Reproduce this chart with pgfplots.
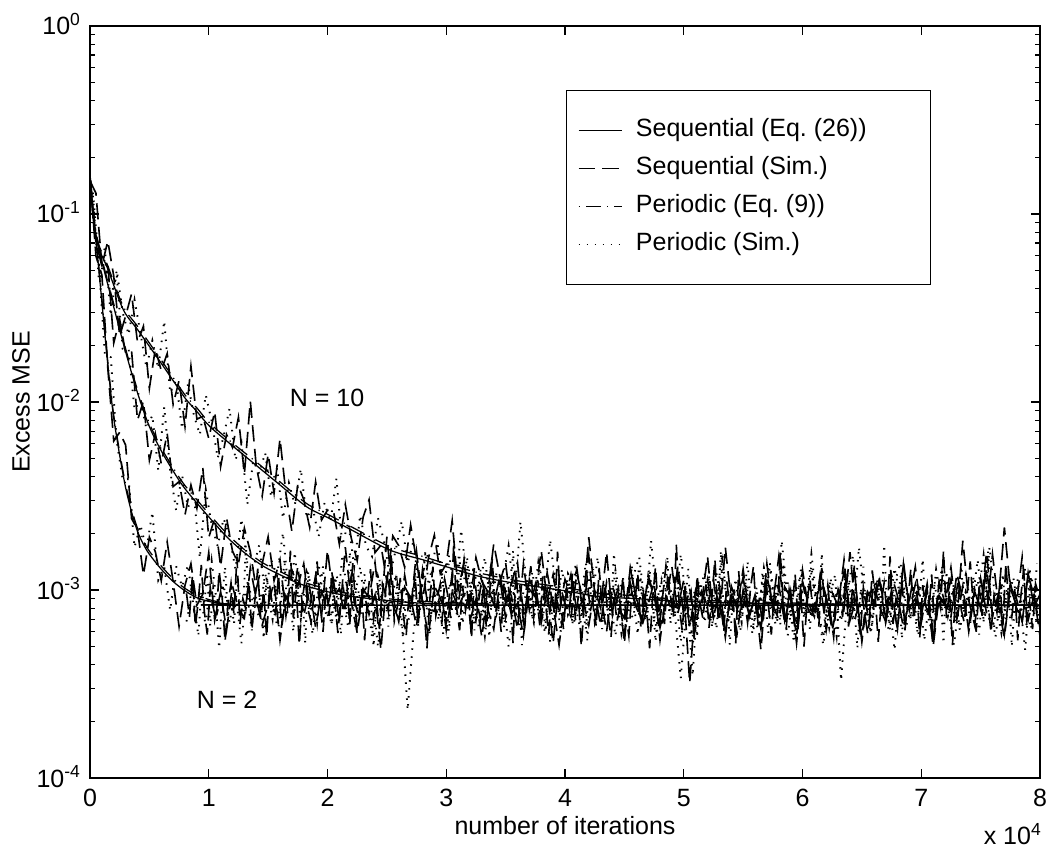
\documentclass[border=0pt]{standalone}
\usepackage{fontspec}
\setmainfont{Liberation Sans}
\usepackage{pgfplots}
\usepackage{pgfplotstable}
\pgfplotsset{compat=1.18}

% simulated excess MSE, dashed runs (N=2, N=5, N=10)
\pgfplotstableread{
x a c e
0 1600e-4 1500e-4 1550e-4
500 598e-4 1290e-4 711e-4
1000 475e-4 531e-4 529e-4
1500 151e-4 544e-4 719e-4
2000 62e-4 206e-4 467e-4
2500 69e-4 275e-4 224e-4
3000 59e-4 182e-4 287e-4
3500 24e-4 187e-4 376e-4
4000 21e-4 80e-4 208e-4
4500 12.0e-4 101e-4 253e-4
5000 19.1e-4 49e-4 118e-4
5500 16.0e-4 68e-4 192e-4
6000 11.2e-4 47e-4 147e-4
6500 18.0e-4 68e-4 181e-4
7000 11.1e-4 35.5e-4 97e-4
7500 6.4e-4 37.7e-4 130e-4
8000 10.6e-4 25.1e-4 74e-4
8500 13.8e-4 36.2e-4 155e-4
9000 8.3e-4 27.2e-4 81e-4
9500 9.5e-4 44.6e-4 84e-4
10000 15.8e-4 19.0e-4 64e-4
10500 6.9e-4 24.1e-4 89e-4
11000 9.8e-4 13.3e-4 45.3e-4
11500 6.1e-4 24.2e-4 67.2e-4
12000 10.5e-4 16.1e-4 57.3e-4
12500 8.0e-4 13.8e-4 83e-4
13000 7.1e-4 21.3e-4 41.3e-4
13500 13.1e-4 16.0e-4 101e-4
14000 9.0e-4 10.1e-4 45.6e-4
14500 6.5e-4 13.8e-4 31.6e-4
15000 8.4e-4 19.2e-4 52.8e-4
15500 11.0e-4 11.2e-4 32.7e-4
16000 5.4e-4 14.5e-4 63.8e-4
16500 9.3e-4 7.3e-4 32.5e-4
17000 7.8e-4 12.8e-4 20.5e-4
17500 13.4e-4 10.5e-4 36.5e-4
18000 7.3e-4 13.8e-4 30.3e-4
18500 10.2e-4 8.1e-4 21.5e-4
19000 6.3e-4 11.9e-4 37.6e-4
19500 9.8e-4 7.3e-4 23.6e-4
20000 8.1e-4 16.3e-4 26.6e-4
20500 11.3e-4 9.1e-4 26.4e-4
21000 6.8e-4 10.2e-4 17.5e-4
21500 16.9e-4 8.2e-4 28.5e-4
22000 8.7e-4 11.9e-4 18.9e-4
22500 5.9e-4 6.4e-4 14.3e-4
23000 10.0e-4 10.1e-4 24.4e-4
23500 7.4e-4 9.1e-4 30.2e-4
24000 9.4e-4 14.0e-4 15.8e-4
24500 4.8e-4 7.3e-4 17.3e-4
25000 11.9e-4 19.2e-4 11.1e-4
25500 8.3e-4 9.2e-4 19.4e-4
26000 7.0e-4 6.8e-4 17.2e-4
26500 10.4e-4 12.0e-4 13.2e-4
27000 9.1e-4 7.8e-4 22.2e-4
27500 6.4e-4 16.0e-4 14.3e-4
28000 12.8e-4 8.5e-4 8.7e-4
28500 7.9e-4 5.7e-4 14.8e-4
29000 7.7e-4 10.5e-4 19.6e-4
29500 10.8e-4 9.1e-4 12.2e-4
30000 6.1e-4 6.8e-4 13.7e-4
30500 9.7e-4 12.3e-4 23.4e-4
31000 8.2e-4 8.1e-4 10.0e-4
31500 14.5e-4 9.5e-4 14.0e-4
32000 6.9e-4 9.9e-4 8.7e-4
32500 8.9e-4 6.9e-4 14.9e-4
33000 5.6e-4 11.5e-4 11.1e-4
33500 10.3e-4 7.9e-4 9.8e-4
34000 8.4e-4 6.2e-4 17.6e-4
34500 11.7e-4 10.9e-4 12.0e-4
35000 7.1e-4 14.0e-4 8.5e-4
35500 9.2e-4 7.5e-4 10.9e-4
36000 6.2e-4 8.5e-4 14.0e-4
36500 13.8e-4 5.7e-4 6.8e-4
37000 7.8e-4 10.1e-4 11.4e-4
37500 10.7e-4 9.2e-4 9.4e-4
38000 6.7e-4 7.2e-4 16.2e-4
38500 9.9e-4 12.4e-4 8.8e-4
39000 5.2e-4 8.2e-4 12.1e-4
39500 11.1e-4 5.1e-4 7.4e-4
40000 8.5e-4 8.9e-4 11.4e-4
40500 7.2e-4 12.1e-4 9.4e-4
41000 12.2e-4 7.7e-4 13.0e-4
41500 9.0e-4 8.8e-4 7.8e-4
42000 6.5e-4 15.3e-4 19.1e-4
42500 10.1e-4 6.7e-4 9.7e-4
43000 8.0e-4 9.5e-4 6.5e-4
43500 15.9e-4 6.0e-4 11.0e-4
44000 7.3e-4 10.5e-4 8.2e-4
44500 9.5e-4 8.0e-4 10.3e-4
45000 5.8e-4 7.1e-4 5.2e-4
45500 10.9e-4 13.1e-4 12.9e-4
46000 8.1e-4 9.0e-4 9.0e-4
46500 6.8e-4 6.5e-4 7.5e-4
47000 12.0e-4 8.4e-4 11.2e-4
47500 9.3e-4 11.0e-4 9.7e-4
48000 6.3e-4 5.4e-4 6.8e-4
48500 8.8e-4 9.3e-4 13.5e-4
49000 13.3e-4 7.8e-4 8.3e-4
49500 7.5e-4 13.4e-4 8.0e-4
50000 10.0e-4 7.3e-4 11.3e-4
50500 3.2e-4 10.2e-4 6.3e-4
51000 9.1e-4 6.3e-4 10.0e-4
51500 8.3e-4 9.8e-4 8.5e-4
52000 11.4e-4 8.1e-4 15.1e-4
52500 7.0e-4 11.3e-4 7.1e-4
53000 10.5e-4 6.8e-4 9.1e-4
53500 6.0e-4 16.9e-4 5.6e-4
54000 9.8e-4 8.7e-4 10.5e-4
54500 7.9e-4 5.9e-4 8.4e-4
55000 12.9e-4 10.0e-4 11.7e-4
55500 7.4e-4 7.4e-4 7.1e-4
56000 8.9e-4 9.4e-4 9.2e-4
56500 6.4e-4 4.8e-4 6.2e-4
57000 10.2e-4 11.9e-4 13.8e-4
57500 8.4e-4 8.3e-4 7.8e-4
58000 15.0e-4 7.0e-4 10.7e-4
58500 6.9e-4 10.4e-4 6.7e-4
59000 9.4e-4 9.1e-4 9.9e-4
59500 5.7e-4 6.4e-4 5.2e-4
60000 11.0e-4 12.8e-4 11.1e-4
60500 7.8e-4 7.9e-4 8.5e-4
61000 7.1e-4 7.7e-4 7.2e-4
61500 11.8e-4 10.8e-4 12.2e-4
62000 9.2e-4 6.1e-4 9.0e-4
62500 6.1e-4 9.7e-4 6.5e-4
63000 8.7e-4 8.2e-4 10.1e-4
63500 12.5e-4 14.5e-4 8.0e-4
64000 7.7e-4 6.9e-4 15.9e-4
64500 10.3e-4 8.9e-4 7.3e-4
65000 5.3e-4 5.6e-4 9.5e-4
65500 9.7e-4 10.3e-4 5.8e-4
66000 8.2e-4 8.4e-4 10.9e-4
66500 11.2e-4 11.7e-4 8.1e-4
67000 6.7e-4 7.1e-4 6.8e-4
67500 10.0e-4 9.2e-4 12.0e-4
68000 6.2e-4 6.2e-4 9.3e-4
68500 14.1e-4 13.8e-4 6.3e-4
69000 8.0e-4 7.8e-4 8.8e-4
69500 9.0e-4 10.7e-4 13.3e-4
70000 7.3e-4 6.7e-4 7.5e-4
70500 10.8e-4 9.9e-4 10.0e-4
71000 5.9e-4 5.2e-4 5.0e-4
71500 9.3e-4 11.1e-4 9.1e-4
72000 8.5e-4 8.5e-4 8.3e-4
72500 13.2e-4 7.2e-4 11.4e-4
73000 7.0e-4 12.2e-4 7.0e-4
73500 18.3e-4 9.0e-4 10.5e-4
74000 8.8e-4 6.5e-4 6.0e-4
74500 6.5e-4 10.1e-4 9.8e-4
75000 11.5e-4 8.0e-4 7.9e-4
75500 7.5e-4 15.9e-4 12.9e-4
76000 15.5e-4 7.3e-4 7.4e-4
76500 8.3e-4 9.5e-4 8.9e-4
77000 5.6e-4 5.8e-4 21.5e-4
77500 10.4e-4 10.9e-4 10.2e-4
78000 9.1e-4 8.1e-4 8.4e-4
78500 6.8e-4 6.8e-4 15.0e-4
79000 12.3e-4 12.0e-4 6.9e-4
79500 8.1e-4 9.3e-4 9.4e-4
80000 9.5e-4 6.3e-4 5.7e-4
}\seqsim

% simulated excess MSE, dotted runs (N=2, N=5, N=10)
\pgfplotstableread{
x b d f
250 1300e-4 1250e-4 970e-4
750 550e-4 445e-4 538e-4
1250 179e-4 578e-4 656e-4
1750 173e-4 364e-4 288e-4
2250 61.9e-4 473e-4 504e-4
2750 38.8e-4 192e-4 300e-4
3250 38.9e-4 192e-4 228e-4
3750 16.9e-4 91e-4 349e-4
4250 22.2e-4 102e-4 232e-4
4750 16.4e-4 72e-4 152e-4
5250 26.0e-4 84.9e-4 212e-4
5750 11.3e-4 43.3e-4 151e-4
6250 13.3e-4 94e-4 270e-4
6750 7.8e-4 43.3e-4 112e-4
7250 13.4e-4 26.5e-4 131e-4
7750 10.4e-4 41.0e-4 72e-4
8250 13.6e-4 27.5e-4 125e-4
8750 7.9e-4 31.9e-4 85e-4
9250 9.8e-4 14.8e-4 67e-4
9750 6.4e-4 34.1e-4 109e-4
10250 14.2e-4 22.1e-4 79e-4
10750 7.8e-4 17.1e-4 50.3e-4
11250 10.7e-4 24.0e-4 65.4e-4
11750 6.7e-4 19.4e-4 92.6e-4
12250 9.9e-4 12.9e-4 49.1e-4
12750 5.2e-4 23.9e-4 60.9e-4
13250 11.1e-4 14.0e-4 28.5e-4
13750 8.5e-4 13.0e-4 48.7e-4
14250 7.2e-4 17.4e-4 41.6e-4
14750 12.2e-4 9.5e-4 53.7e-4
15250 9.0e-4 14.5e-4 31.2e-4
15750 6.5e-4 11.9e-4 44.5e-4
16250 10.1e-4 20.2e-4 24.0e-4
16750 8.0e-4 9.2e-4 37.1e-4
17250 15.9e-4 11.5e-4 28.4e-4
17750 7.3e-4 7.0e-4 44.1e-4
18250 9.5e-4 12.5e-4 24.2e-4
18750 5.8e-4 10.1e-4 27.6e-4
19250 10.9e-4 13.8e-4 19.2e-4
19750 8.1e-4 8.3e-4 29.1e-4
20250 6.8e-4 10.5e-4 23.0e-4
20750 12.0e-4 7.0e-4 39.1e-4
21250 9.3e-4 15.4e-4 17.3e-4
21750 6.3e-4 8.7e-4 23.0e-4
22250 8.8e-4 11.7e-4 13.3e-4
22750 13.3e-4 7.2e-4 25.0e-4
23250 7.5e-4 10.7e-4 17.1e-4
23750 10.0e-4 5.6e-4 15.1e-4
24250 5.0e-4 11.8e-4 24.2e-4
24750 9.1e-4 9.0e-4 18.3e-4
25250 8.3e-4 7.2e-4 11.9e-4
25750 11.4e-4 12.2e-4 16.4e-4
26250 7.0e-4 9.0e-4 23.2e-4
26750 2.3e-4 6.5e-4 13.9e-4
27250 6.0e-4 10.1e-4 18.3e-4
27750 9.8e-4 8.0e-4 9.2e-4
28250 7.9e-4 15.9e-4 16.2e-4
28750 12.9e-4 7.3e-4 13.4e-4
29250 7.4e-4 9.5e-4 18.0e-4
29750 8.9e-4 5.8e-4 10.4e-4
30250 6.4e-4 10.9e-4 15.4e-4
30750 10.2e-4 8.1e-4 9.4e-4
31250 8.4e-4 6.8e-4 20.9e-4
31750 15.0e-4 12.0e-4 11.5e-4
32250 6.9e-4 9.3e-4 12.8e-4
32750 9.4e-4 6.3e-4 10.2e-4
33250 5.7e-4 8.8e-4 14.9e-4
33750 11.0e-4 13.3e-4 8.0e-4
34250 7.8e-4 7.5e-4 12.5e-4
34750 7.1e-4 10.0e-4 11.3e-4
35250 11.8e-4 5.0e-4 17.2e-4
35750 9.2e-4 9.1e-4 9.0e-4
36250 6.1e-4 8.3e-4 23.1e-4
36750 8.7e-4 11.4e-4 10.9e-4
37250 12.5e-4 7.0e-4 8.0e-4
37750 7.7e-4 10.5e-4 14.0e-4
38250 10.3e-4 6.0e-4 9.1e-4
38750 5.3e-4 9.8e-4 18.5e-4
39250 9.7e-4 7.9e-4 9.9e-4
39750 8.2e-4 12.9e-4 6.5e-4
40250 11.2e-4 7.4e-4 12.2e-4
40750 6.7e-4 8.9e-4 10.5e-4
41250 10.0e-4 6.4e-4 7.8e-4
41750 6.2e-4 10.2e-4 14.0e-4
42250 14.1e-4 8.4e-4 9.1e-4
42750 8.0e-4 15.0e-4 10.5e-4
43250 9.0e-4 6.9e-4 10.9e-4
43750 7.3e-4 9.4e-4 7.5e-4
44250 10.8e-4 5.7e-4 12.7e-4
44750 5.9e-4 11.0e-4 8.5e-4
45250 9.3e-4 7.8e-4 6.8e-4
45750 8.5e-4 7.1e-4 11.8e-4
46250 13.2e-4 11.8e-4 15.0e-4
46750 7.0e-4 9.2e-4 8.1e-4
47250 18.3e-4 6.1e-4 9.1e-4
47750 8.8e-4 8.7e-4 6.0e-4
48250 6.5e-4 12.5e-4 10.7e-4
48750 11.5e-4 7.7e-4 9.8e-4
49250 7.5e-4 10.3e-4 7.5e-4
49750 15.5e-4 5.3e-4 3.4e-4
50250 8.3e-4 9.7e-4 8.5e-4
50750 5.6e-4 3.5e-4 5.1e-4
51250 10.4e-4 11.2e-4 9.2e-4
51750 9.1e-4 6.7e-4 12.4e-4
52250 6.8e-4 10.0e-4 7.9e-4
52750 12.3e-4 6.2e-4 9.0e-4
53250 8.1e-4 14.1e-4 15.6e-4
53750 9.5e-4 8.0e-4 6.7e-4
54250 9.9e-4 9.0e-4 9.5e-4
54750 6.9e-4 7.3e-4 6.0e-4
55250 11.5e-4 10.8e-4 10.5e-4
55750 7.9e-4 5.9e-4 8.0e-4
56250 6.2e-4 9.3e-4 7.1e-4
56750 10.9e-4 8.5e-4 13.1e-4
57250 14.0e-4 13.2e-4 9.0e-4
57750 7.5e-4 7.0e-4 6.5e-4
58250 8.5e-4 18.3e-4 8.4e-4
58750 5.7e-4 8.8e-4 11.0e-4
59250 10.1e-4 6.5e-4 5.4e-4
59750 9.2e-4 11.5e-4 9.3e-4
60250 7.2e-4 7.5e-4 7.8e-4
60750 12.4e-4 15.5e-4 13.4e-4
61250 8.2e-4 8.3e-4 7.3e-4
61750 5.1e-4 5.6e-4 10.2e-4
62250 8.9e-4 10.4e-4 6.3e-4
62750 12.1e-4 9.1e-4 9.8e-4
63250 3.3e-4 6.8e-4 8.1e-4
63750 8.8e-4 12.3e-4 11.3e-4
64250 15.3e-4 8.1e-4 6.8e-4
64750 6.7e-4 9.5e-4 16.9e-4
65250 9.5e-4 9.9e-4 8.7e-4
65750 6.0e-4 6.9e-4 5.9e-4
66250 10.5e-4 11.5e-4 10.0e-4
66750 8.0e-4 7.9e-4 7.4e-4
67250 7.1e-4 6.2e-4 9.4e-4
67750 13.1e-4 10.9e-4 4.8e-4
68250 9.0e-4 14.0e-4 11.9e-4
68750 6.5e-4 7.5e-4 8.3e-4
69250 8.4e-4 8.5e-4 7.0e-4
69750 11.0e-4 5.7e-4 10.4e-4
70250 5.4e-4 10.1e-4 9.1e-4
70750 9.3e-4 9.2e-4 6.4e-4
71250 7.8e-4 7.2e-4 12.8e-4
71750 13.4e-4 12.4e-4 7.9e-4
72250 7.3e-4 8.2e-4 7.7e-4
72750 10.2e-4 5.1e-4 10.8e-4
73250 6.3e-4 8.9e-4 6.1e-4
73750 9.8e-4 12.1e-4 9.7e-4
74250 8.1e-4 7.7e-4 8.2e-4
74750 11.3e-4 8.8e-4 14.5e-4
75250 6.8e-4 15.3e-4 6.9e-4
75750 16.9e-4 6.7e-4 8.9e-4
76250 8.7e-4 9.5e-4 5.6e-4
76750 5.9e-4 6.0e-4 10.3e-4
77250 10.0e-4 10.5e-4 8.4e-4
77750 7.4e-4 8.0e-4 11.7e-4
78250 9.4e-4 7.1e-4 7.1e-4
78750 4.8e-4 13.1e-4 9.2e-4
79250 11.9e-4 9.0e-4 6.2e-4
79750 8.3e-4 6.5e-4 13.8e-4
}\persim

% further N=2 samples at the error floor (dashed g, dotted h)
\pgfplotstableread{
x g h
8125 9.6e-4 6.8e-4
8375 7.2e-4 8.1e-4
8625 11.9e-4 11.6e-4
8875 6.4e-4 7.4e-4
9125 8.8e-4 5.7e-4
9375 13.6e-4 9.8e-4
9625 7.7e-4 8.5e-4
9875 5.8e-4 12.3e-4
10125 10.3e-4 6.4e-4
10375 8.1e-4 10.2e-4
10625 6.9e-4 7.9e-4
10875 12.7e-4 4.9e-4
11125 9.2e-4 9.0e-4
11375 5.3e-4 13.3e-4
11625 8.5e-4 7.3e-4
11875 10.9e-4 8.8e-4
12125 7.4e-4 6.6e-4
12375 15.1e-4 11.3e-4
12625 6.6e-4 9.4e-4
12875 9.0e-4 7.1e-4
13125 7.9e-4 17.4e-4
13375 11.2e-4 8.0e-4
13625 6.1e-4 6.1e-4
13875 8.7e-4 10.5e-4
14125 13.0e-4 7.8e-4
14375 7.0e-4 9.6e-4
14625 9.9e-4 5.5e-4
14875 5.6e-4 12.0e-4
15125 10.6e-4 8.4e-4
15375 8.2e-4 7.0e-4
15625 7.5e-4 10.7e-4
15875 12.1e-4 6.3e-4
16125 6.3e-4 9.2e-4
16375 9.4e-4 14.6e-4
16625 8.0e-4 7.5e-4
16875 16.2e-4 8.6e-4
17125 7.1e-4 6.0e-4
17375 10.0e-4 11.1e-4
17625 5.1e-4 8.2e-4
17875 8.9e-4 9.9e-4
18125 11.5e-4 5.2e-4
18375 7.8e-4 12.6e-4
18625 6.7e-4 7.6e-4
18875 9.7e-4 8.9e-4
19125 14.2e-4 6.7e-4
19375 8.4e-4 10.3e-4
19625 6.0e-4 13.4e-4
19875 10.4e-4 7.2e-4
20125 7.3e-4 9.1e-4
20375 12.4e-4 6.5e-4
20625 8.6e-4 11.8e-4
20875 5.9e-4 8.3e-4
21125 9.3e-4 5.8e-4
21375 7.6e-4 9.7e-4
21625 11.0e-4 7.4e-4
21875 6.5e-4 16.0e-4
22125 13.9e-4 8.7e-4
22375 8.3e-4 6.2e-4
22625 7.2e-4 10.0e-4
22875 10.1e-4 7.9e-4
23125 5.4e-4 12.2e-4
23375 9.1e-4 6.9e-4
23625 12.9e-4 9.3e-4
23875 7.0e-4 5.0e-4
24125 8.7e-4 8.5e-4
24375 6.2e-4 11.4e-4
24625 10.8e-4 7.7e-4
24875 9.5e-4 9.0e-4
25125 7.7e-4 6.4e-4
25375 15.7e-4 13.1e-4
25625 6.8e-4 8.1e-4
25875 8.1e-4 10.6e-4
26125 11.6e-4 7.3e-4
26375 7.4e-4 5.6e-4
26625 5.7e-4 9.5e-4
26875 9.8e-4 9.6e-4
27125 8.5e-4 7.2e-4
27375 12.3e-4 11.9e-4
27625 6.4e-4 6.4e-4
27875 10.2e-4 8.8e-4
28125 7.9e-4 13.6e-4
28375 4.9e-4 7.7e-4
28625 9.0e-4 5.8e-4
28875 13.3e-4 10.3e-4
29125 7.3e-4 8.1e-4
29375 8.8e-4 6.9e-4
29625 6.6e-4 12.7e-4
29875 11.3e-4 9.2e-4
30125 9.4e-4 5.3e-4
30375 7.1e-4 8.5e-4
30625 17.4e-4 10.9e-4
30875 8.0e-4 7.4e-4
31125 6.1e-4 15.1e-4
31375 10.5e-4 6.6e-4
31625 7.8e-4 9.0e-4
31875 9.6e-4 7.9e-4
32125 5.5e-4 11.2e-4
32375 12.0e-4 6.1e-4
32625 8.4e-4 8.7e-4
32875 7.0e-4 13.0e-4
33125 10.7e-4 7.0e-4
33375 6.3e-4 9.9e-4
33625 9.2e-4 5.6e-4
33875 14.6e-4 10.6e-4
34125 7.5e-4 8.2e-4
34375 8.6e-4 7.5e-4
34625 6.0e-4 12.1e-4
34875 11.1e-4 6.3e-4
35125 8.2e-4 9.4e-4
35375 9.9e-4 8.0e-4
35625 5.2e-4 16.2e-4
35875 12.6e-4 7.1e-4
36125 7.6e-4 10.0e-4
36375 8.9e-4 5.1e-4
36625 6.7e-4 8.9e-4
36875 10.3e-4 11.5e-4
37125 13.4e-4 7.8e-4
37375 7.2e-4 6.7e-4
37625 9.1e-4 9.7e-4
37875 6.5e-4 14.2e-4
38125 11.8e-4 8.4e-4
38375 8.3e-4 6.0e-4
38625 5.8e-4 10.4e-4
38875 9.7e-4 7.3e-4
39125 7.4e-4 12.4e-4
39375 16.0e-4 8.6e-4
39625 8.7e-4 5.9e-4
39875 6.2e-4 9.3e-4
40125 10.0e-4 7.6e-4
40375 7.9e-4 11.0e-4
40625 12.2e-4 6.5e-4
40875 6.9e-4 13.9e-4
41125 9.3e-4 8.3e-4
41375 5.0e-4 7.2e-4
41625 8.5e-4 10.1e-4
41875 11.4e-4 5.4e-4
42125 7.7e-4 9.1e-4
42375 9.0e-4 12.9e-4
42625 6.4e-4 7.0e-4
42875 13.1e-4 8.7e-4
43125 8.1e-4 6.2e-4
43375 10.6e-4 10.8e-4
43625 7.3e-4 9.5e-4
43875 5.6e-4 7.7e-4
44125 9.5e-4 15.7e-4
44375 6.8e-4 9.6e-4
44625 8.1e-4 7.2e-4
44875 11.6e-4 11.9e-4
45125 7.4e-4 6.4e-4
45375 5.7e-4 8.8e-4
45625 9.8e-4 13.6e-4
45875 8.5e-4 7.7e-4
46125 12.3e-4 5.8e-4
46375 6.4e-4 10.3e-4
46625 10.2e-4 8.1e-4
46875 7.9e-4 6.9e-4
47125 4.9e-4 12.7e-4
47375 9.0e-4 9.2e-4
47625 13.3e-4 5.3e-4
47875 7.3e-4 8.5e-4
48125 8.8e-4 10.9e-4
48375 6.6e-4 7.4e-4
48625 11.3e-4 15.1e-4
48875 9.4e-4 6.6e-4
49125 7.1e-4 9.0e-4
49375 17.4e-4 7.9e-4
49625 8.0e-4 11.2e-4
49875 6.1e-4 6.1e-4
50125 10.5e-4 8.7e-4
50375 7.8e-4 13.0e-4
50625 9.6e-4 7.0e-4
50875 5.5e-4 9.9e-4
51125 12.0e-4 5.6e-4
51375 8.4e-4 10.6e-4
51625 7.0e-4 8.2e-4
51875 10.7e-4 7.5e-4
52125 6.3e-4 12.1e-4
52375 9.2e-4 6.3e-4
52625 14.6e-4 9.4e-4
52875 7.5e-4 8.0e-4
53125 8.6e-4 16.2e-4
53375 6.0e-4 7.1e-4
53625 11.1e-4 10.0e-4
53875 8.2e-4 5.1e-4
54125 9.9e-4 8.9e-4
54375 5.2e-4 11.5e-4
54625 12.6e-4 7.8e-4
54875 7.6e-4 6.7e-4
55125 8.9e-4 9.7e-4
55375 6.7e-4 14.2e-4
55625 10.3e-4 8.4e-4
55875 13.4e-4 6.0e-4
56125 7.2e-4 10.4e-4
56375 9.1e-4 7.3e-4
56625 6.5e-4 12.4e-4
56875 11.8e-4 8.6e-4
57125 8.3e-4 5.9e-4
57375 5.8e-4 9.3e-4
57625 9.7e-4 7.6e-4
57875 7.4e-4 11.0e-4
58125 16.0e-4 6.5e-4
58375 8.7e-4 13.9e-4
58625 6.2e-4 8.3e-4
58875 10.0e-4 7.2e-4
59125 7.9e-4 10.1e-4
59375 12.2e-4 5.4e-4
59625 6.9e-4 9.1e-4
59875 9.3e-4 12.9e-4
60125 5.0e-4 7.0e-4
60375 8.5e-4 8.7e-4
60625 11.4e-4 6.2e-4
60875 7.7e-4 10.8e-4
61125 9.0e-4 9.5e-4
61375 6.4e-4 7.7e-4
61625 13.1e-4 15.7e-4
61875 8.1e-4 6.8e-4
62125 10.6e-4 8.1e-4
62375 7.3e-4 11.6e-4
62625 5.6e-4 7.4e-4
62875 9.5e-4 5.7e-4
63125 9.6e-4 9.8e-4
63375 7.2e-4 8.5e-4
63625 11.9e-4 12.3e-4
63875 6.4e-4 6.4e-4
64125 8.8e-4 10.2e-4
64375 13.6e-4 7.9e-4
64625 7.7e-4 4.9e-4
64875 5.8e-4 9.0e-4
65125 10.3e-4 13.3e-4
65375 8.1e-4 7.3e-4
65625 6.9e-4 8.8e-4
65875 12.7e-4 6.6e-4
66125 9.2e-4 11.3e-4
66375 5.3e-4 9.4e-4
66625 8.5e-4 7.1e-4
66875 10.9e-4 17.4e-4
67125 7.4e-4 8.0e-4
67375 15.1e-4 6.1e-4
67625 6.6e-4 10.5e-4
67875 9.0e-4 7.8e-4
68125 7.9e-4 9.6e-4
68375 11.2e-4 5.5e-4
68625 6.1e-4 12.0e-4
68875 8.7e-4 8.4e-4
69125 13.0e-4 7.0e-4
69375 7.0e-4 10.7e-4
69625 9.9e-4 6.3e-4
69875 5.6e-4 9.2e-4
70125 10.6e-4 14.6e-4
70375 8.2e-4 7.5e-4
70625 7.5e-4 8.6e-4
70875 12.1e-4 6.0e-4
71125 6.3e-4 11.1e-4
71375 9.4e-4 8.2e-4
71625 8.0e-4 9.9e-4
71875 16.2e-4 5.2e-4
72125 7.1e-4 12.6e-4
72375 10.0e-4 7.6e-4
72625 5.1e-4 8.9e-4
72875 8.9e-4 6.7e-4
73125 11.5e-4 10.3e-4
73375 7.8e-4 13.4e-4
73625 6.7e-4 7.2e-4
73875 9.7e-4 9.1e-4
74125 14.2e-4 6.5e-4
74375 8.4e-4 11.8e-4
74625 6.0e-4 8.3e-4
74875 10.4e-4 5.8e-4
75125 7.3e-4 9.7e-4
75375 12.4e-4 7.4e-4
75625 8.6e-4 16.0e-4
75875 5.9e-4 8.7e-4
76125 9.3e-4 6.2e-4
76375 7.6e-4 10.0e-4
76625 11.0e-4 7.9e-4
76875 6.5e-4 12.2e-4
77125 13.9e-4 6.9e-4
77375 8.3e-4 9.3e-4
77625 7.2e-4 5.0e-4
77875 10.1e-4 8.5e-4
78125 5.4e-4 11.4e-4
78375 9.1e-4 7.7e-4
78625 12.9e-4 9.0e-4
78875 7.0e-4 6.4e-4
79125 8.7e-4 13.1e-4
79375 6.2e-4 8.1e-4
79625 10.8e-4 10.6e-4
79875 9.5e-4 7.3e-4
}\floorsim

\pgfplotsset{
  theo/.style={black, line width=0.5pt, solid},
  theodd/.style={black, line width=0.5pt, dash pattern=on 0.5pt off 2.5pt on 6pt off 2.3pt},
  simdash/.style={black, line width=0.65pt, dash pattern=on 6.5pt off 3pt},
  simdot/.style={black, line width=0.75pt, dash pattern=on 0.6pt off 2.6pt},
}

\begin{document}
\begin{tikzpicture}
\begin{axis}[
    at={(0,0)}, anchor=south west,
    width=380pt, height=300.8pt, scale only axis,
    ymode=log, log basis y=10,
    xmin=0, xmax=80000, ymin=1e-4, ymax=1,
    xtick={0,10000,...,80000},
    xticklabels={0,1,2,3,4,5,6,7,8},
    scaled x ticks=false,
    ytick={1e-4,1e-3,1e-2,1e-1,1},
    yticklabels={10\textsuperscript{-4},10\textsuperscript{-3},10\textsuperscript{-2},10\textsuperscript{-1},10\textsuperscript{0}},
    minor ytick={2e-4,3e-4,4e-4,5e-4,6e-4,7e-4,8e-4,9e-4,
                 2e-3,3e-3,4e-3,5e-3,6e-3,7e-3,8e-3,9e-3,
                 2e-2,3e-2,4e-2,5e-2,6e-2,7e-2,8e-2,9e-2,
                 0.2,0.3,0.4,0.5,0.6,0.7,0.8,0.9},
    /pgf/number format/assume math mode=true,
    tick align=inside,
    major tick length=3.6pt, minor tick length=2pt,
    every tick/.style={black, line width=0.5pt},
    axis line style={line width=0.6pt},
    xticklabel style={anchor=base, yshift=-11.2pt},
    yticklabel style={anchor=base east, yshift=-3.6pt},
    xlabel={number of iterations},
    ylabel={Excess MSE},
    every axis x label/.style={at={([yshift=-22.4pt]rel axis cs:0.5,0)}, anchor=base},
    every axis y label/.style={at={([xshift=-27.6pt]rel axis cs:0,0.5)}, rotate=90, anchor=center},
    legend image code/.code={\draw[#1] (0pt,0pt) -- (17.2pt,0pt);},
    legend cell align=left,
    legend style={at={(0.501,0.915)}, anchor=north west, draw=black, line width=0.5pt,
      fill=white, inner xsep=4.4pt, inner ysep=10pt, row sep=3.2pt,
      nodes={inner ysep=1pt, inner xsep=5.4pt, text height=7.5pt, text depth=2.5pt}},
]
% simulations
\addplot[simdot, forget plot] table[x=x, y=h] {\floorsim};
\addplot[simdash, forget plot] table[x=x, y=g] {\floorsim};
\addplot[simdot, forget plot] table[x=x, y=f] {\persim};
\addplot[simdash, forget plot] table[x=x, y=e] {\seqsim};
\addplot[simdot, forget plot] table[x=x, y=d] {\persim};
\addplot[simdash, forget plot] table[x=x, y=c] {\seqsim};
\addplot[simdot, forget plot] table[x=x, y=b] {\persim};
\addplot[simdash, forget plot] table[x=x, y=a] {\seqsim};

% theory, N = 2
\addplot[theo, smooth, forget plot] coordinates {
(0,0.16)(250,0.105)(500,0.072)(750,0.05)(1000,0.034)(1250,0.023)(1500,0.0158)
(1750,0.0112)(2000,0.0082)(2500,0.0052)(3000,0.0035)(3500,0.0026)(4000,0.00205)
(4500,0.00175)(5000,0.00155)(6000,0.00129)(7000,0.00111)(8000,0.00099)(9000,0.00091)
(10000,0.00087)(11000,0.00085)(12000,0.00084)(14000,0.00083)(80000,0.00083)};
\addplot[theodd, smooth, forget plot] coordinates {
(0,0.165)(250,0.109)(500,0.075)(750,0.052)(1000,0.0354)(1250,0.024)(1500,0.0164)
(1750,0.0116)(2000,0.0085)(2500,0.0054)(3000,0.00364)(3500,0.0027)(4000,0.00213)
(4500,0.00182)(5000,0.00161)(6000,0.00134)(7000,0.00115)(8000,0.00102)(9000,0.00094)
(10000,0.00089)(11000,0.00086)(12000,0.00084)(14000,0.00083)(80000,0.00083)};

% theory, N = 5
\addplot[theo, smooth, forget plot] coordinates {
(0,0.16)(300,0.09)(1000,0.056)(2000,0.032)(3000,0.0185)(4000,0.0112)(5000,0.0074)
(6000,0.0055)(7000,0.0043)(7860,0.00355)(9000,0.0029)(10000,0.00245)(11510,0.00192)
(13000,0.00158)(14500,0.00135)(15720,0.00123)(18000,0.00106)(21330,0.00094)(25000,0.00088)
(28070,0.00085)(32000,0.00084)(36000,0.00083)(80000,0.00083)};
\addplot[theodd, smooth, forget plot] coordinates {
(0,0.165)(300,0.094)(1000,0.058)(2000,0.0333)(3000,0.0192)(4000,0.0116)(5000,0.0077)
(6000,0.0057)(7000,0.00447)(7860,0.00369)(9000,0.00302)(10000,0.00255)(11510,0.002)
(13000,0.00164)(14500,0.0014)(15720,0.00128)(18000,0.0011)(21330,0.00097)(25000,0.0009)
(28070,0.00087)(32000,0.00085)(36000,0.00084)(42000,0.00083)(80000,0.00083)};

% theory, N = 10
\addplot[theo, smooth, forget plot] coordinates {
(0,0.16)(560,0.073)(1500,0.051)(2800,0.031)(4000,0.0243)(5620,0.0174)(7000,0.013)
(8000,0.0105)(9000,0.0089)(10100,0.0074)(12070,0.0058)(14000,0.0046)(16000,0.00362)
(18250,0.00277)(20000,0.00243)(22000,0.00209)(25260,0.00163)(28000,0.00145)(30000,0.00133)
(32840,0.00118)(36000,0.00108)(40000,0.00099)(42950,0.00092)(46000,0.0009)(50000,0.00087)
(60000,0.00084)(70000,0.00083)(80000,0.00083)};
\addplot[theodd, smooth, forget plot] coordinates {
(0,0.165)(560,0.076)(1500,0.053)(2800,0.0322)(4000,0.0253)(5620,0.0181)(7000,0.0135)
(8000,0.0109)(9000,0.0093)(10100,0.0077)(12070,0.006)(14000,0.0048)(16000,0.00376)
(18250,0.00288)(20000,0.00253)(22000,0.00217)(25260,0.0017)(28000,0.00151)(30000,0.00138)
(32840,0.00123)(36000,0.00112)(40000,0.00103)(42950,0.00096)(46000,0.00093)(50000,0.00089)
(60000,0.00085)(70000,0.00083)(80000,0.00083)};

\addlegendimage{theo}
\addlegendentry{\makebox[108pt][l]{Sequential (Eq.\ (26))}}
\addlegendimage{simdash}
\addlegendentry{Sequential (Sim.)}
\addlegendimage{theodd}
\addlegendentry{Periodic (Eq.\ (9))}
\addlegendimage{simdot}
\addlegendentry{Periodic (Sim.)}

\node at (axis cs:19960,0.0105) {N = 10};
\node at (axis cs:11540,2.6e-4) {N = 2};
\end{axis}
\node[anchor=base east, inner sep=0pt] at (381pt,-26.8pt) {x 10\textsuperscript{4}};
\pgfresetboundingbox
\path[use as bounding box] (-36pt,-30.4pt) rectangle (385.6pt,311.2pt);
\end{tikzpicture}
\end{document}
